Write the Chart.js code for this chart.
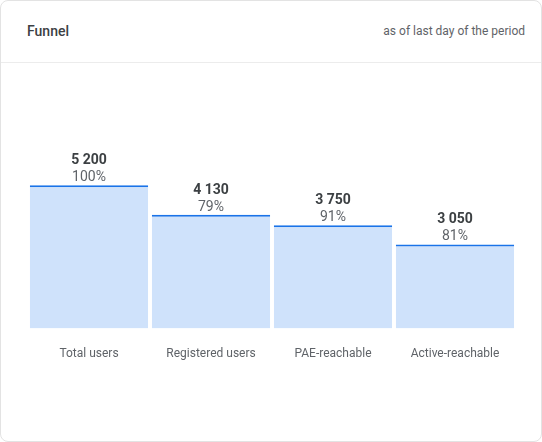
<!DOCTYPE html>
<html>
<head>
<meta charset="utf-8">
<script src="https://cdn.jsdelivr.net/npm/chart.js@4"></script>
<style>
  body { margin: 0; background: #fff; font-family: Roboto, sans-serif; }
  .card { position: absolute; left: 0; top: 0; width: 540px; height: 440px; border: 1px solid #e3e3e3; border-radius: 8px; box-sizing: content-box; }
  .head { height: 61px; border-bottom: 1px solid #ececec; position: relative; }
  .title { position: absolute; left: 26px; top: 22px; font-size: 14px; font-weight: 500; color: #3c4043; }
  .note { position: absolute; right: 16px; top: 23px; font-size: 12px; color: #5f6368; }
  .wrap { position: absolute; left: 12px; top: 70px; width: 518px; height: 300px; }
</style>
</head>
<body>
<div class="card">
  <div class="head">
    <div class="title">Funnel</div>
    <div class="note">as of last day of the period</div>
  </div>
  <div class="wrap"><canvas id="myChart"></canvas></div>
</div>
<script>
var labels = ["Total users", "Registered users", "PAE-reachable", "Active-reachable"];
var values = [5200, 4130, 3750, 3050];
var percents = ["100%", "79%", "91%", "81%"];

function fmt(n) {
    return String(n).replace(/\B(?=(\d{3})+(?!\d))/g, " ");
}

//draws the value and percentage above each bar
var topLabels = {
    id: "topLabels",
    afterDatasetsDraw: function (chart) {
        var ctx = chart.ctx;
        var meta = chart.getDatasetMeta(0);
        ctx.save();
        ctx.textAlign = "center";
        meta.data.forEach(function (bar, i) {
            ctx.fillStyle = "#3c4043";
            ctx.font = "bold 14px Roboto";
            ctx.fillText(fmt(values[i]), bar.x, bar.y - 21);
            ctx.fillStyle = "#5f6368";
            ctx.font = "14px Roboto";
            ctx.fillText(percents[i], bar.x, bar.y - 4);
        });
        ctx.restore();
    }
};

new Chart(document.getElementById("myChart"), {
    type: "bar",
    data: {
        labels: labels,
        datasets: [{
            data: values,
            backgroundColor: "#cfe2fb",
            borderColor: "#1a73e8",
            borderWidth: { top: 2, left: 0, right: 0, bottom: 0 },
            borderSkipped: false,
            barPercentage: 0.97,
            categoryPercentage: 1
        }]
    },
    options: {
        responsive: true,
        maintainAspectRatio: false,
        animation: false,
        layout: { padding: { left: 15, right: 15, top: 12 } },
        plugins: { legend: { display: false }, tooltip: { enabled: false } },
        scales: {
            x: {
                grid: { display: false },
                border: { display: false },
                ticks: { color: "#5f6368", font: { family: "Roboto", size: 12 }, padding: 10 }
            },
            y: { display: false, min: 0, max: 8904 }
        }
    },
    plugins: [topLabels]
});
</script>
</body>
</html>
